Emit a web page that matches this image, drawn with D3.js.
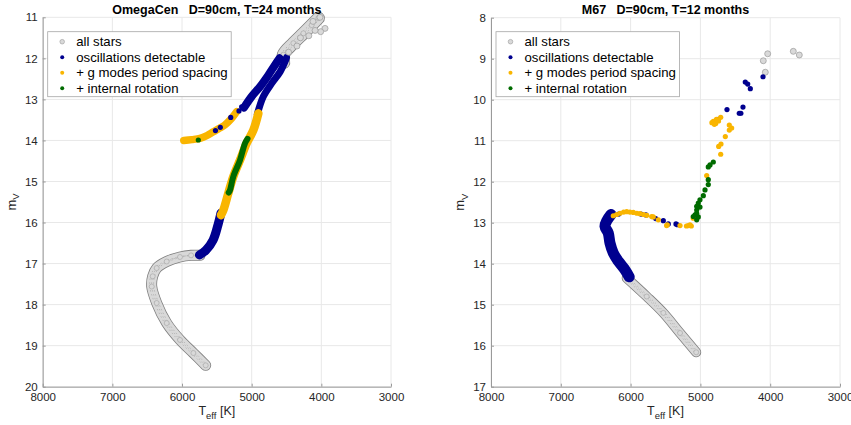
<!DOCTYPE html>
<html>
<head>
<meta charset="utf-8">
<script src="https://cdn.jsdelivr.net/npm/d3@7"></script>
<style>
  body { margin: 0; background: #fff; }
  svg { font-family: "Liberation Sans", Arial, Helvetica, sans-serif; }
</style>
</head>
<body>
<div id="chart"></div>
<script>
// ---- data ----
var tempTicks = [8000, 7000, 6000, 5000, 4000, 3000];
var omegaMagTicks = [11, 12, 13, 14, 15, 16, 17, 18, 19, 20];
var m67MagTicks = [8, 9, 10, 11, 12, 13, 14, 15, 16, 17];
var legendLabels = ["all stars", "oscillations detectable", "+ g modes period spacing", "+ internal rotation"];

// OmegaCen: ridge lines of the dense sequences [Teff, mV]
var omegaMainSeq = [[5660,19.48],[5837,19.18],[6029,18.86],[6220,18.45],[6364,17.96],[6435,17.56],[6421,17.31],
  [6364,17.11],[6220,16.95],[6029,16.84],[5870,16.80],[5742,16.80]];
var omegaGiantTip = [[4540,12.10],[4545,11.91],[4402,11.63],[4258,11.39],[4139,11.19],[4043,11.02]];
var omegaSubgiant = [[5750,16.79],[5656,16.67],[5555,16.43],[5484,16.06],[5441,15.77]];
var omegaRgbLower = [[5441,15.82],[5407,15.70],[5336,15.29],[5264,14.88],[5168,14.48],[5072,14.07],[4976,13.75],[4904,13.34]];
var omegaRgbCore = [[5330,15.27],[5311,15.21],[5264,14.88],[5168,14.48],[5096,14.07],[5060,13.96]];
var omegaRgbUpper = [[4919,13.36],[4833,12.93],[4713,12.61],[4593,12.33],[4522,12.08],[4500,11.98]];
var omegaAgb = [[5110,13.20],[5000,12.93],[4880,12.69],[4761,12.41],[4665,12.16],[4600,12.00]];
var omegaHB = [[5975,14.00],[5860,13.98],[5742,13.95],[5640,13.88],[5551,13.79],[5460,13.70],[5383,13.62],[5287,13.46],[5215,13.30]];
// OmegaCen: isolated stars
var omegaGrayDots = [[3947,11.27],[4010,11.35],[4090,11.32],[4020,11.0],[4180,11.45],[4300,11.5],[4120,11.1],[4350,11.7],[4470,11.85]];
var omegaBlueDots = [[5301,13.44],[5182,13.28],[5144,13.18],[5450,13.68],[5520,13.76],[5650,16.70]];
var omegaGreenDots = [[5766,13.99]];

// M67: ridge lines [Teff, mV]
var m67MainSeq = [[6056,14.35],[5769,14.80],[5531,15.20],[5292,15.69],[5060,16.16]];
var m67Turnoff = [[6280,12.80],[6340,12.95],[6367,13.09],[6320,13.25],[6295,13.50],[6248,13.74],[6176,13.94],[6080,14.15],[6020,14.32]];
// M67: individual stars
var m67Gray = [[4036,8.88],[4099,9.05],[4070,9.33],[3669,8.82],[3583,8.91]];
var m67Blue = [[6170,12.79],[5850,12.79],[5780,12.81],[5640,12.90],[5531,12.95],[5460,13.03],[5350,13.03],[5330,13.05],
  [4743,10.48],[4619,10.24],[4390,10.18],[4443,10.33],[4420,10.33],[4357,9.57],[4322,9.62],[4285,9.73],[4103,9.44]];
var m67Yellow = [[6248,12.83],[6200,12.80],[6152,12.77],[6100,12.74],[6056,12.73],[6010,12.74],[5961,12.75],[5910,12.77],
  [5865,12.78],[5815,12.80],[5769,12.82],[5698,12.85],[5603,12.93],[5675,12.86],[5484,13.07],[5474,13.05],[5292,13.07],
  [5200,13.08],[5173,13.07],[5149,13.05],[5130,13.08],[5102,12.89],
  [4910,11.85],[4709,11.33],[4738,11.14],[4705,11.08],[4643,10.90],[4586,10.74],[4552,10.69],[4586,10.62],[4709,10.43],
  [4815,10.53],[4790,10.55],[4760,10.50],[4835,10.56],[4780,10.58],[4740,10.52],[4770,10.48],[4800,10.60]];
var m67Green = [[5102,12.85],[5053,12.93],[5030,12.86],[5077,12.81],[5053,12.77],[5053,12.69],[5006,12.62],[5053,12.60],
  [5030,12.52],[5006,12.44],[4958,12.34],[4934,12.20],[4887,12.07],[4887,11.95],[4887,11.64],[4862,11.59],[4815,11.52]];

// ---- styles ----
var colors = { gray: "#d9d9d9", grayEdge: "#808080", blue: "#00008f", yellow: "#f9b500", green: "#006b00" };

var panels = [
  { title: "OmegaCen   D=90cm, T=24 months", left: 42.7, right: 391, top: 17.3, bottom: 386.7,
    magDomain: [11, 20], magTicks: omegaMagTicks,
    bands: [
      { pts: omegaMainSeq, c: "gray", w: 11 },
      { pts: omegaGiantTip, c: "gray", w: 13 },
      { pts: omegaSubgiant, c: "blue", w: 9 },
      { pts: omegaRgbUpper, c: "blue", w: 7 },
      { pts: omegaAgb, c: "blue", w: 8 },
      { pts: omegaRgbLower, c: "yellow", w: 8.5 },
      { pts: omegaHB, c: "yellow", w: 7.5 },
      { pts: omegaRgbCore, c: "green", w: 6 }
    ],
    dots: [
      { pts: omegaGrayDots, c: "gray" },
      { pts: omegaBlueDots, c: "blue" },
      { pts: omegaGreenDots, c: "green" }
    ] },
  { title: "M67   D=90cm, T=12 months", left: 491, right: 840, top: 17.7, bottom: 386.7,
    magDomain: [8, 17], magTicks: m67MagTicks,
    bands: [
      { pts: m67MainSeq, c: "gray", w: 10 },
      { pts: m67Turnoff, c: "blue", w: 11 }
    ],
    dots: [
      { pts: m67Gray, c: "gray" },
      { pts: m67Blue, c: "blue" },
      { pts: m67Yellow, c: "yellow" },
      { pts: m67Green, c: "green" }
    ] }
];

var svg = d3.select("#chart").append("svg")
    .attr("width", 851)
    .attr("height", 425);

svg.append("rect").attr("width", 851).attr("height", 425).attr("fill", "#fff");

panels.forEach(function (p) {
  var x = d3.scaleLinear().domain([8000, 3000]).range([p.left, p.right]);
  var y = d3.scaleLinear().domain(p.magDomain).range([p.top, p.bottom]);
  var g = svg.append("g");

  // grid
  g.selectAll(".gx").data(tempTicks).enter().append("line")
    .attr("x1", d => x(d)).attr("x2", d => x(d))
    .attr("y1", p.top).attr("y2", p.bottom)
    .attr("stroke", "#e8e8e8").attr("stroke-width", 1);
  g.selectAll(".gy").data(p.magTicks).enter().append("line")
    .attr("x1", p.left).attr("x2", p.right)
    .attr("y1", d => y(d)).attr("y2", d => y(d))
    .attr("stroke", "#e8e8e8").attr("stroke-width", 1);

  // axes
  var xAxis = d3.axisBottom(x).tickValues(tempTicks).tickFormat(d3.format("d"))
    .tickSizeInner(-3).tickSizeOuter(0).tickPadding(6);
  var yAxis = d3.axisLeft(y).tickValues(p.magTicks).tickFormat(d3.format("d"))
    .tickSizeInner(-3).tickSizeOuter(0).tickPadding(5);

  var ax = g.append("g").attr("transform", `translate(0,${p.bottom})`).call(xAxis);
  var ay = g.append("g").attr("transform", `translate(${p.left},0)`).call(yAxis);
  [ax, ay].forEach(function (a) {
    a.select(".domain").attr("stroke", "#9a9a9a");
    a.selectAll(".tick line").attr("stroke", "#9a9a9a");
    a.selectAll(".tick text").attr("fill", "#262626").attr("font-size", 11.5)
      .attr("font-family", "Liberation Sans, Arial, sans-serif");
  });

  var line = d3.line()
    .x(d => x(d[0])).y(d => y(d[1]))
    .curve(d3.curveCatmullRom.alpha(0.5));

  // dense sequences
  p.bands.forEach(function (b) {
    if (b.c === "gray") {
      g.append("path").attr("d", line(b.pts)).attr("fill", "none")
        .attr("stroke", colors.grayEdge).attr("stroke-width", b.w)
        .attr("stroke-linecap", "round").attr("stroke-linejoin", "round");
      g.append("path").attr("d", line(b.pts)).attr("fill", "none")
        .attr("stroke", colors.gray).attr("stroke-width", b.w - 1.6)
        .attr("stroke-linecap", "round").attr("stroke-linejoin", "round");
      // speckle texture of overlapping star outlines
      [-0.3, 0, 0.3].forEach(function (f) {
        g.append("path").attr("d", line(b.pts)).attr("fill", "none")
          .attr("transform", `translate(${f * b.w * 0.6},0)`)
          .attr("stroke", "#a3a3a3").attr("stroke-width", 0.6)
          .attr("stroke-dasharray", "1.5,2.5");
      });
      g.selectAll(null).data(b.pts).enter().append("circle")
        .attr("cx", d => x(d[0])).attr("cy", d => y(d[1])).attr("r", 2.5)
        .attr("fill", colors.gray).attr("stroke", "#a3a3a3").attr("stroke-width", 0.6);
    } else {
      g.append("path").attr("d", line(b.pts)).attr("fill", "none")
        .attr("stroke", colors[b.c]).attr("stroke-width", b.w)
        .attr("stroke-linecap", "round").attr("stroke-linejoin", "round");
    }
  });

  // individual stars
  p.dots.forEach(function (s) {
    g.selectAll(null).data(s.pts).enter().append("circle")
      .attr("cx", d => x(d[0])).attr("cy", d => y(d[1]))
      .attr("r", s.c === "gray" ? 3 : 2.6)
      .attr("fill", colors[s.c])
      .attr("stroke", s.c === "gray" ? "#9a9a9a" : "none")
      .attr("stroke-width", 0.7);
  });

  // title
  g.append("text")
    .attr("x", (p.left + p.right) / 2).attr("y", 14)
    .attr("text-anchor", "middle").attr("font-size", 12.5).attr("font-weight", "bold")
    .attr("fill", "#000").style("white-space", "pre")
    .text(p.title);

  // x label
  var xl = g.append("text")
    .attr("x", (p.left + p.right) / 2).attr("y", 415)
    .attr("text-anchor", "middle").attr("font-size", 12.5).attr("fill", "#262626");
  xl.append("tspan").text("T");
  xl.append("tspan").attr("dy", 3.5).attr("font-size", 9.5).text("eff");
  xl.append("tspan").attr("dy", -3.5).text(" [K]");

  // y label
  var yl = g.append("text")
    .attr("transform", `translate(${p.left - 27},${(p.top + p.bottom) / 2}) rotate(-90)`)
    .attr("text-anchor", "middle").attr("font-size", 13).attr("fill", "#262626");
  yl.append("tspan").text("m");
  yl.append("tspan").attr("dy", 3.5).attr("font-size", 9.5).text("V");

  // legend
  var lg = g.append("g").attr("transform", `translate(${p.left + 5},31.7)`);
  lg.append("rect").attr("width", 183.5).attr("height", 65)
    .attr("fill", "#fff").attr("stroke", "#a6a6a6").attr("stroke-width", 0.8);
  var keys = ["gray", "blue", "yellow", "green"];
  legendLabels.forEach(function (lab, i) {
    var cy = 10 + i * 15.5;
    lg.append("circle").attr("cx", 14.5).attr("cy", cy).attr("r", i === 0 ? 2.3 : 2)
      .attr("fill", colors[keys[i]])
      .attr("stroke", i === 0 ? "#9a9a9a" : "none").attr("stroke-width", 0.6);
    lg.append("text").attr("x", 28.5).attr("y", cy + 4.6)
      .attr("font-size", 13.2).attr("fill", "#000").text(lab);
  });
});
</script>
</body>
</html>
